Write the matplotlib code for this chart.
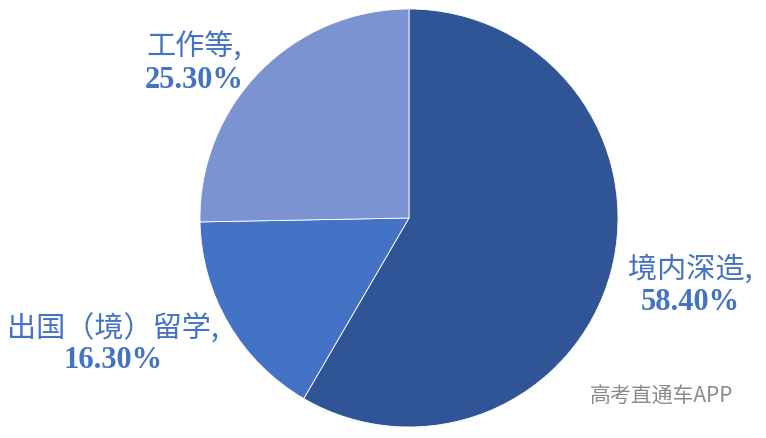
import matplotlib
matplotlib.use("Agg")
import matplotlib.pyplot as plt

categories = ["境内深造", "出国（境）留学", "工作等"]
values = [58.40, 16.30, 25.30]
colors = ["#2F5597", "#4472C4", "#7B93D0"]

fig = plt.figure(figsize=(7.66, 4.38), dpi=100)
ax = fig.add_axes([0, 0, 1, 1])

ax.pie(values, colors=colors, startangle=90, counterclock=False,
       center=(409, 220), radius=209, frame=True,
       wedgeprops=dict(linewidth=0.6, edgecolor="white"))
ax.set_xlim(0, 766)
ax.set_ylim(0, 438)
ax.set_aspect("equal")
ax.axis("off")

label_color = "#4472C4"
cjk = ["Noto Sans CJK SC", "Liberation Serif"]
num = ["Liberation Serif", "DejaVu Serif"]
label_pos = [(690, 168), (113, 110), (194, 390)]
for cat, v, (x, y) in zip(categories, values, label_pos):
    ax.text(x, y, cat + ",", ha="center", va="center", fontsize=21,
            color=label_color, family=cjk)
    ax.text(x, y - 33, f"{v:.2f}%", ha="center", va="center", fontsize=22,
            color=label_color, family=num, fontweight="bold")

ax.text(662, 41, "高考直通车APP", ha="center", va="center", fontsize=15,
        color="#8a8a8a", family=["Noto Sans CJK SC", "DejaVu Sans"])

fig.savefig("out.png", dpi=100)
